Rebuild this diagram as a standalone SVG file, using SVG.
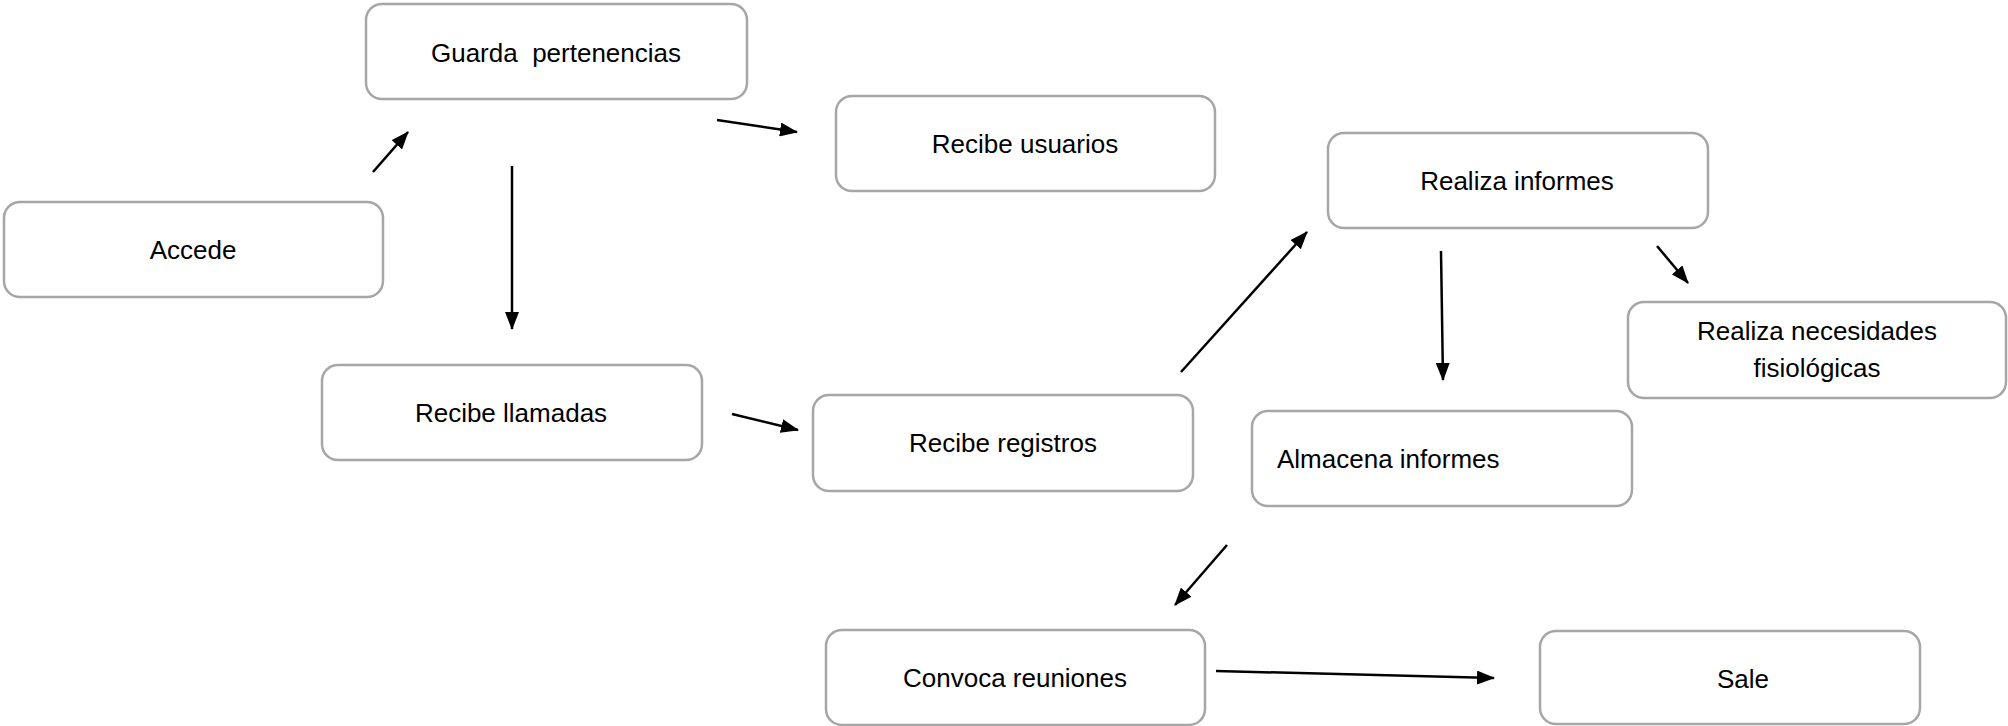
<svg xmlns="http://www.w3.org/2000/svg" width="2008" height="726" viewBox="0 0 2008 726">
<style>
.box{fill:#ffffff;stroke:#a6a6a6;stroke-width:2.5}
.lbl{font-family:"Liberation Sans",Arial,sans-serif;font-size:26px;fill:#000000;text-anchor:middle}
.lbl.left{text-anchor:start}
.conn line{stroke:#000000;stroke-width:2.5;marker-end:url(#ah)}
</style>
<defs>
<marker id="ah" viewBox="0 0 18 14" refX="17" refY="7" markerWidth="18" markerHeight="14" markerUnits="userSpaceOnUse" orient="auto">
<path d="M0,0 L18,7 L0,14 z" fill="#000000"/>
</marker>
</defs>
<rect width="2008" height="726" fill="#ffffff"/>
<g id="guarda"><rect class="box" x="366" y="4" width="381" height="95" rx="16"/><text class="lbl" x="556" y="62" xml:space="preserve">Guarda  pertenencias</text></g>
<g id="accede"><rect class="box" x="4" y="202" width="379" height="95" rx="16"/><text class="lbl" x="193" y="259">Accede</text></g>
<g id="recibe-usuarios"><rect class="box" x="836" y="96" width="379" height="95" rx="16"/><text class="lbl" x="1025" y="153">Recibe usuarios</text></g>
<g id="realiza-informes"><rect class="box" x="1328" y="133" width="380" height="95" rx="16"/><text class="lbl" x="1517" y="190">Realiza informes</text></g>
<g id="necesidades"><rect class="box" x="1628" y="302" width="378" height="96" rx="16"/><text class="lbl" x="1817" y="340">Realiza necesidades</text><text class="lbl" x="1817" y="377">fisiológicas</text></g>
<g id="recibe-llamadas"><rect class="box" x="322" y="365" width="380" height="95" rx="16"/><text class="lbl" x="511" y="422">Recibe llamadas</text></g>
<g id="recibe-registros"><rect class="box" x="813" y="395" width="380" height="96" rx="16"/><text class="lbl" x="1003" y="452">Recibe registros</text></g>
<g id="almacena"><rect class="box" x="1252" y="411" width="380" height="95" rx="16"/><text class="lbl left" x="1277" y="468">Almacena informes</text></g>
<g id="convoca"><rect class="box" x="826" y="630" width="379" height="95" rx="16"/><text class="lbl" x="1015" y="687">Convoca reuniones</text></g>
<g id="sale"><rect class="box" x="1540" y="631" width="380" height="93" rx="16"/><text class="lbl" x="1743" y="688">Sale</text></g>
<g id="connectors" class="conn">
<line x1="373" y1="172" x2="408" y2="132"/>
<line x1="717" y1="120" x2="797" y2="132"/>
<line x1="512" y1="166" x2="512" y2="329"/>
<line x1="732" y1="414" x2="798" y2="430"/>
<line x1="1181" y1="372" x2="1307" y2="232"/>
<line x1="1441" y1="251" x2="1443" y2="380"/>
<line x1="1657" y1="246" x2="1688" y2="283"/>
<line x1="1227" y1="545" x2="1175" y2="605"/>
<line x1="1216" y1="671" x2="1494" y2="678"/>
</g>
</svg>
